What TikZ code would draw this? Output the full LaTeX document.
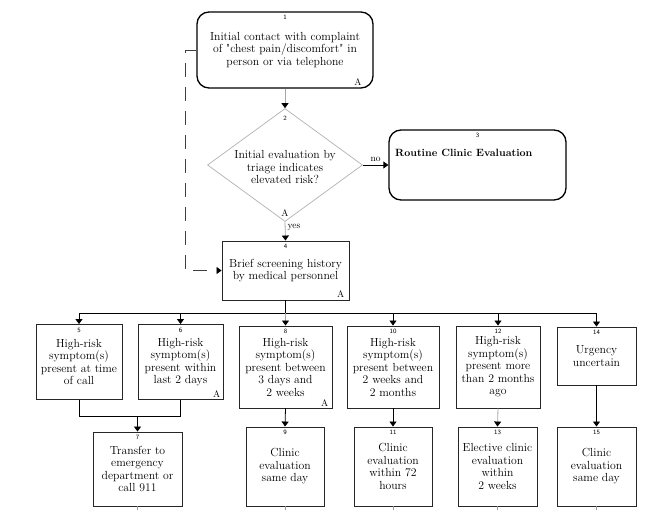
\documentclass[tikz,border=0pt]{standalone}
\usetikzlibrary{arrows.meta,shapes.geometric}
\begin{document}
\begin{tikzpicture}[x=1pt,y=-1pt,
  box/.style={draw=black!85, line width=0.9pt, fill=white, inner sep=0pt, align=center,
    font=\fontsize{11.7}{12.5}\selectfont},
  rbox/.style={box, rounded corners=12pt, draw=black, line width=1.3pt},
  num/.style={font=\fontsize{6.5}{7}\sffamily, inner sep=0pt},
  amark/.style={font=\fontsize{9.5}{9.5}\selectfont, inner sep=0pt},
  lbl/.style={font=\fontsize{9.5}{9.5}\selectfont, inner sep=1pt},
  tip/.style={-{Triangle[length=5pt,width=7pt,color=black]}},
  arr/.style={tip, line width=0.8pt, draw=black},
  garr/.style={tip, line width=0.8pt, draw=black!35},
  ln/.style={line width=0.8pt, draw=black},
  stub/.style={line width=0.6pt, draw=black!40},
]
\useasboundingbox (0,0) rectangle (654,522);

% top part
\node[rbox, minimum width=176pt, minimum height=76pt] (b1) at (285,50)
  {Initial contact with complaint\\of \textquotedbl chest pain/discomfort\textquotedbl{} in\\person or via telephone};
\node[diamond, draw=black!30, line width=0.7pt, fill=white, inner sep=0pt,
  minimum width=155pt, minimum height=113pt] (d2) at (285,165) {};
\node[align=center, inner sep=0pt, font=\fontsize{11.7}{12.5}\selectfont] (d2t) at (285,167)
  {Initial evaluation by\\triage indicates\\elevated risk?};
\node[rbox, minimum width=177pt, minimum height=70pt] (b3) at (477.5,165) {};
\node[anchor=west, inner sep=0pt, font=\fontsize{10.5}{12}\selectfont\bfseries] (b3t) at (395,153)
  {Routine Clinic Evaluation};
\node[box, minimum width=127pt, minimum height=59pt] (b4) at (285.5,270.5)
  {Brief screening history\\by medical personnel};

% row of symptom boxes
\node[box, minimum width=86pt, minimum height=75pt] (b5) at (79,362)
  {High-risk\\symptom(s)\\present at time\\of call};
\node[box, minimum width=85pt, minimum height=75pt] (b6) at (180.5,362)
  {High-risk\\symptom(s)\\present within\\last 2 days};
\node[box, minimum width=93pt, minimum height=82pt] (b8) at (285.5,367)
  {High-risk\\symptom(s)\\present between\\3 days and\\2 weeks};
\node[box, minimum width=92pt, minimum height=82pt] (b10) at (393,367)
  {High-risk\\symptom(s)\\present between\\2 weeks and\\2 months};
\node[box, minimum width=84pt, minimum height=82pt] (b12) at (498,367)
  {High-risk\\symptom(s)\\present more\\than 2 months\\ago};
\node[box, minimum width=79pt, minimum height=58pt] (b14) at (596.5,356)
  {Urgency\\uncertain};

% bottom row
\node[box, minimum width=89pt, minimum height=74pt] (b7) at (137.5,469)
  {Transfer to\\emergency\\department or\\call 911};
\node[box, minimum width=78pt, minimum height=79pt] (b9) at (285,466.5)
  {Clinic\\evaluation\\same day};
\node[box, minimum width=78pt, minimum height=79pt] (b11) at (393,466.5)
  {Clinic\\evaluation\\within 72\\hours};
\node[box, minimum width=79pt, minimum height=79pt] (b13) at (497.5,466.5)
  {Elective clinic\\evaluation\\within\\2 weeks};
\node[box, minimum width=79pt, minimum height=79pt] (b15) at (596.5,466.5)
  {Clinic\\evaluation\\same day};

% numbers
\foreach \n/\t in {b1/1, b3/3, b4/4, b5/5, b6/6, b8/8, b10/10, b12/12, b14/14,
                   b7/7, b9/9, b11/11, b13/13, b15/15}
  \node[num, anchor=north] at ([yshift=-3.5pt]\n.north) {\t};
\node[num, anchor=north] (n2) at ([yshift=-7.5pt]d2.north) {2};

% A marks
\node[amark, anchor=south east] (a1) at ([xshift=-12pt,yshift=3pt]b1.south east) {A};
\node[amark, anchor=south] (a2) at ([yshift=5pt]d2.south) {A};
\node[amark, anchor=south east] (a4) at ([xshift=-5pt,yshift=3pt]b4.south east) {A};
\node[amark, anchor=south east] (a6) at ([xshift=-3pt,yshift=2pt]b6.south east) {A};
\node[amark, anchor=south east] (a8) at ([xshift=-4pt,yshift=2pt]b8.south east) {A};

% connectors top
\draw[garr] (b1.south) -- (d2.north);
\draw[arr] (d2.east) -- node[lbl, above=1.5pt] (no) {no} (b3.west);
\draw[garr] (d2.south) -- node[lbl, right=1pt, pos=0.3] (yes) {yes} (b4.north);
\coordinate (dk1) at (185,50);
\coordinate (dk2) at (185,270.5);
\draw[arr, draw=black!75, dash pattern=on 14pt off 10pt] (b1.west) -- (dk1) -- (dk2) -- (b4.west);

% bus
\coordinate (bus) at (285.5,313);
\draw[ln] (b4.south) -- (bus);
\draw[ln] (b5.north |- bus) -- (b14.north |- bus);
\foreach \b in {b5,b6,b10,b12,b14}
  \draw[arr] (\b.north |- bus) -- (\b.north);
\draw[garr] (b8.north |- bus) -- (b8.north);

% merge 5 & 6 into 7
\coordinate (mj) at (137.5,416);
\draw[ln] (b5.south) -- (b5.south |- mj) -- (b6.south |- mj) -- (b6.south);
\draw[arr] (mj) -- (b7.north);

% down arrows
\draw[arr] (b8.south) -- (b9.north);
\draw[arr] (b10.south) -- (b11.north);
\draw[garr] (b12.south) -- (b13.north);
\draw[arr] (b14.south) -- (b15.north);

% stubs below bottom boxes
\foreach \b in {b7,b9,b11,b13,b15}
  \draw[stub] (\b.south) -- ++(0,4);
\end{tikzpicture}
\end{document}
